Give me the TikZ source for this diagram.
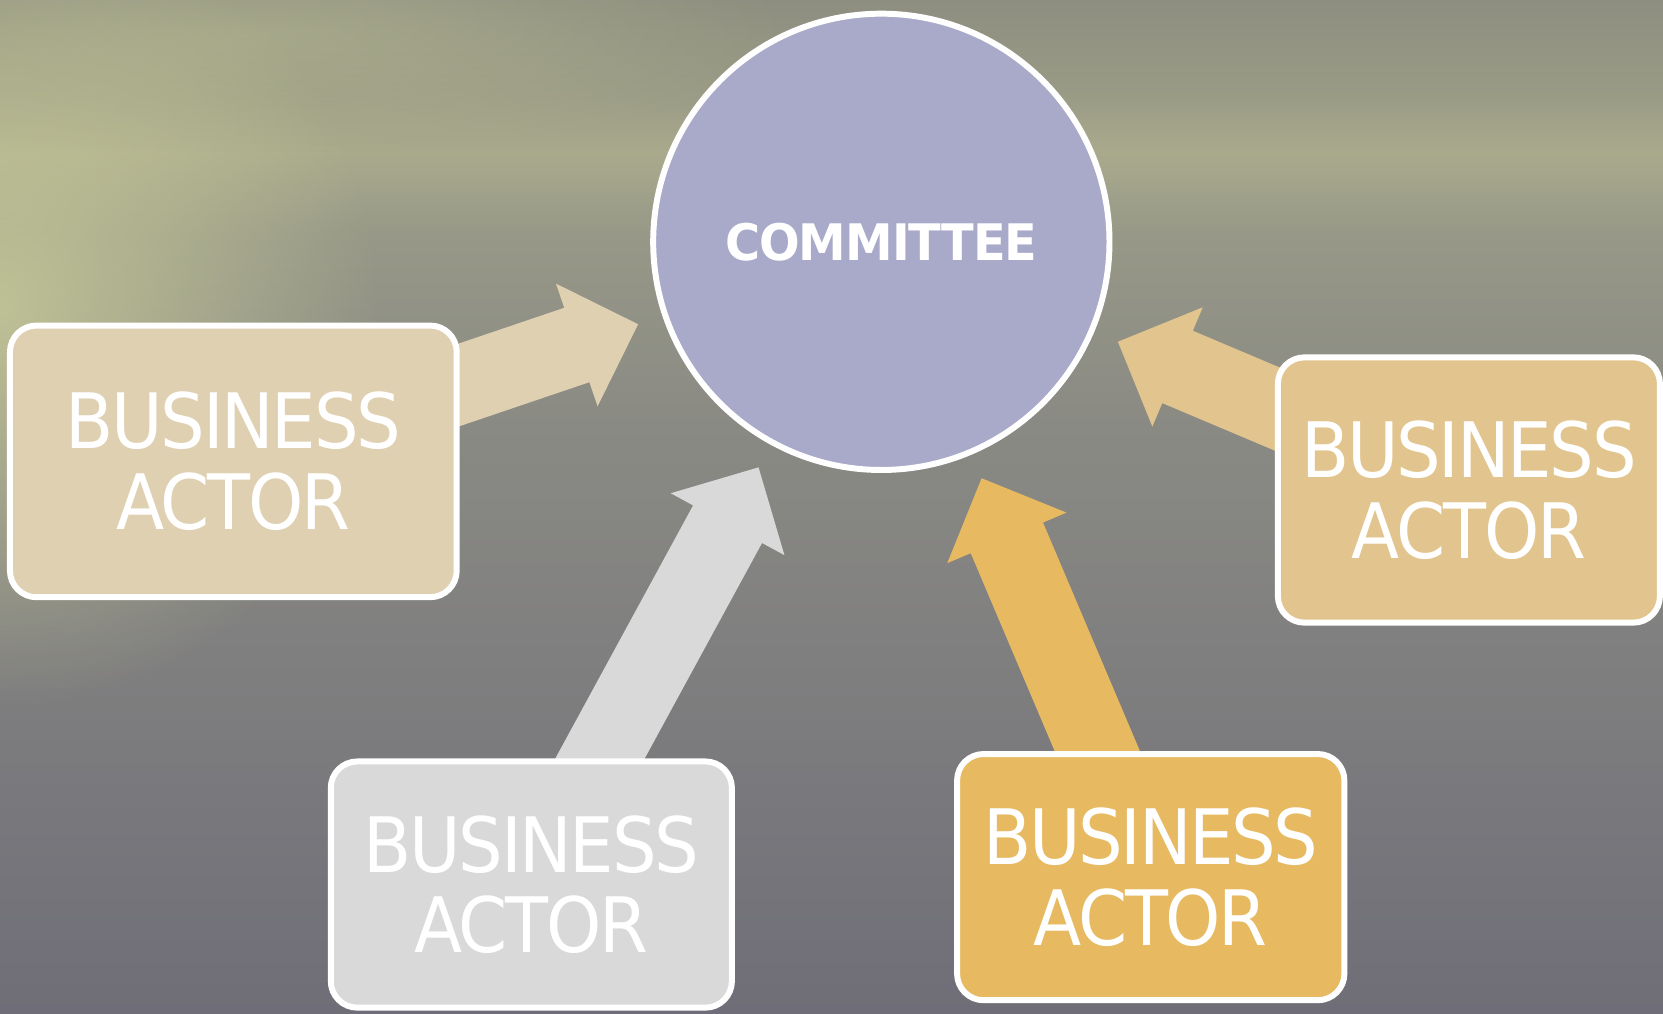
\documentclass[tikz,border=0pt]{standalone}
\usepackage{fontspec}
\newfontfamily\actorfont[FakeStretch=0.92, LetterSpace=-3]{DejaVu Sans}
\newfontfamily\comfont[FakeStretch=0.95, LetterSpace=-2]{DejaVu Sans}
\usetikzlibrary{calc,backgrounds,fadings}

\definecolor{comlav}{HTML}{A9AAC9}
\definecolor{actortan}{HTML}{DFD0B2}
\definecolor{actorsand}{HTML}{E2C58E}
\definecolor{actorgray}{HTML}{D9D9D9}
\definecolor{actorgold}{HTML}{E7BA62}
\definecolor{skytop}{HTML}{8D8E80}
\definecolor{skymid}{HTML}{9A9B85}
\definecolor{horizon}{HTML}{A9AA8C}
\definecolor{seatop}{HTML}{979887}
\definecolor{seamid}{HTML}{8A8A84}
\definecolor{seabot}{HTML}{6F6E78}
\definecolor{glowcol}{HTML}{CDD09A}

\tikzfading[name=glowfade, inner color=transparent!0, outer color=transparent!100]

\tikzset{
  actor/.style={draw=white, line width=1.6pt, rounded corners=0.25cm, text=white,
    align=center, inner sep=0pt, font=\actorfont\fontsize{20.5}{21.6}\selectfont},
  committee/.style={circle, draw=white, line width=1.6pt, fill=comlav, minimum size=4.3cm,
    text=white, font=\comfont\bfseries\fontsize{13.5}{16}\selectfont},
}

\begin{document}
\begin{tikzpicture}[x=0.01cm, y=-0.01cm]
  \useasboundingbox (0,0) rectangle (1568,956);

  % draw sea background
  \begin{scope}[on background layer]
    \shade[top color=skytop, bottom color=skymid] (0,0) rectangle (1568,90);
    \shade[top color=skymid, bottom color=horizon] (0,90) rectangle (1568,145);
    \shade[top color=horizon, bottom color=seatop] (0,145) rectangle (1568,220);
    \shade[top color=seatop, bottom color=seamid] (0,220) rectangle (1568,400);
    \shade[top color=seamid, bottom color=seabot] (0,400) rectangle (1568,956);
    \fill[glowcol, opacity=0.75, path fading=glowfade] (0,290) ellipse [x radius=360, y radius=380];
    \fill[glowcol, opacity=0.35, path fading=glowfade] (250,30) ellipse [x radius=500, y radius=120];
  \end{scope}

  % draw committee and actors
  \node[committee] (com) at (831,228) {COMMITTEE};
  \node[actor, fill=actortan, minimum width=4.21cm, minimum height=2.56cm] (act1) at (220,435) {BUSINESS\\ACTOR};
  \node[actor, fill=actorsand, minimum width=3.60cm, minimum height=2.50cm] (act2) at (1385,462) {BUSINESS\\ACTOR};
  \node[actor, fill=actorgray, minimum width=3.78cm, minimum height=2.32cm] (act3) at (501,834) {BUSINESS\\ACTOR};
  \node[actor, fill=actorgold, minimum width=3.65cm, minimum height=2.32cm] (act4) at (1085,827) {BUSINESS\\ACTOR};

  % draw block arrows behind the boxes
  \begin{scope}[on background layer]
    \foreach \a/\c in {act1/actortan, act2/actorsand, act3/actorgray, act4/actorgold} {
      \coordinate (tip) at ($(com.center)!2.42cm!(\a.center)$);
      \coordinate (base) at ($(tip)!0.61cm!(\a.center)$);
      \fill[\c] ($(\a.center)!0.37cm!90:(tip)$) -- ($(base)!0.37cm!90:(tip)$)
        -- ($(base)!0.61cm!90:(tip)$) -- (tip) -- ($(base)!0.61cm!-90:(tip)$)
        -- ($(base)!0.37cm!-90:(tip)$) -- ($(\a.center)!0.37cm!-90:(tip)$) -- cycle;
    }
  \end{scope}
\end{tikzpicture}
\end{document}
